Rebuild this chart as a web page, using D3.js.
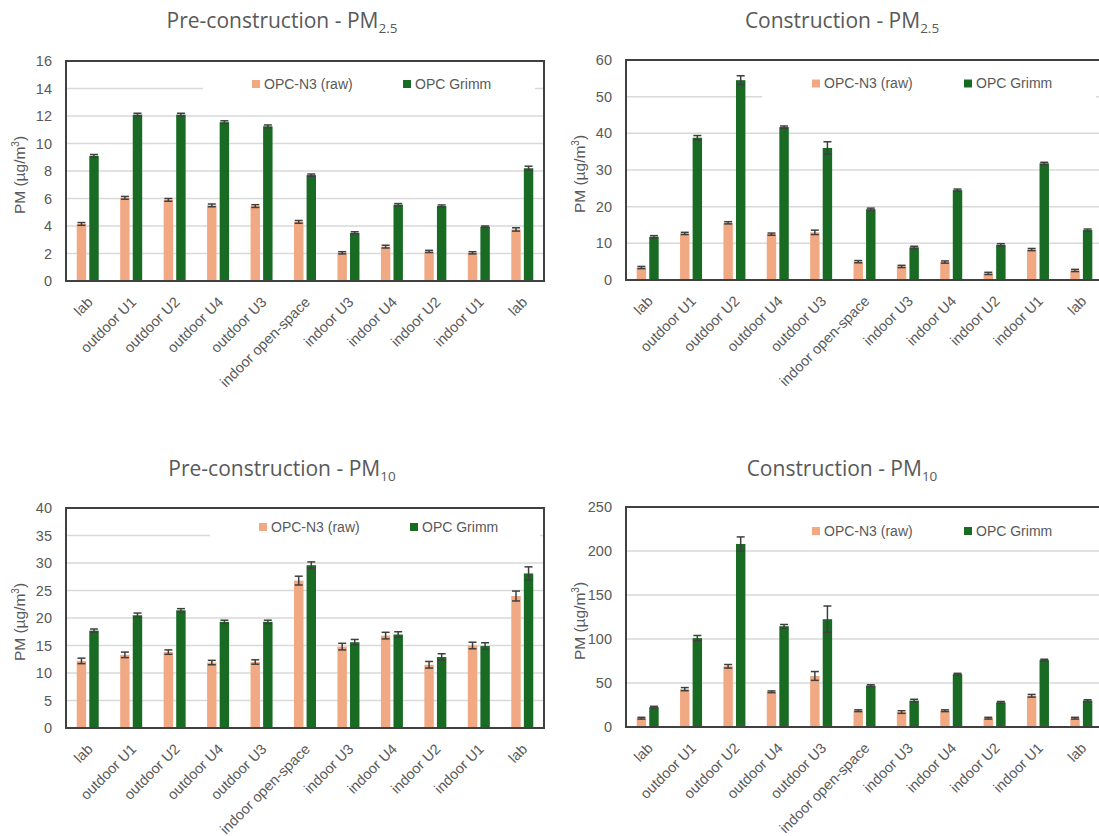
<!DOCTYPE html>
<html>
<head>
<meta charset="utf-8">
<script src="https://cdn.jsdelivr.net/npm/d3@7"></script>
<style>
  body { margin: 0; background: #fff; }
  svg { display: block; }
</style>
</head>
<body>
<svg id="chart" width="1099" height="836"></svg>
<script>
// Measurement sites, in sampling order (the lab appears at both ends)
const categories = ["lab", "outdoor U1", "outdoor U2", "outdoor U4", "outdoor U3",
  "indoor open-space", "indoor U3", "indoor U4", "indoor U2", "indoor U1", "lab"];
const seriesNames = ["OPC-N3 (raw)", "OPC Grimm"];

// Pre-construction, PM2.5 (µg/m³)
const pre25N3       = [4.15, 6.05, 5.9, 5.5, 5.45, 4.3, 2.05, 2.5, 2.15, 2.05, 3.75];
const pre25N3Err    = [0.1, 0.1, 0.1, 0.1, 0.1, 0.1, 0.08, 0.1, 0.08, 0.08, 0.12];
const pre25Grimm    = [9.1, 12.1, 12.1, 11.55, 11.25, 7.7, 3.5, 5.55, 5.45, 3.95, 8.2];
const pre25GrimmErr = [0.1, 0.1, 0.1, 0.1, 0.1, 0.08, 0.08, 0.08, 0.08, 0.05, 0.15];

// Construction, PM2.5 (µg/m³)
const con25N3       = [3.4, 12.7, 15.6, 12.5, 13.0, 5.0, 3.7, 4.9, 1.8, 8.3, 2.6];
const con25N3Err    = [0.3, 0.3, 0.3, 0.3, 0.6, 0.3, 0.3, 0.3, 0.3, 0.3, 0.3];
const con25Grimm    = [11.8, 38.8, 54.5, 41.7, 36.0, 19.3, 8.9, 24.5, 9.6, 31.8, 13.6];
const con25GrimmErr = [0.3, 0.6, 1.2, 0.3, 1.7, 0.3, 0.3, 0.3, 0.3, 0.3, 0.3];

// Pre-construction, PM10 (µg/m³)
const pre10N3       = [12.2, 13.3, 13.8, 11.9, 12.0, 26.8, 14.8, 16.8, 11.5, 15.0, 24.0];
const pre10N3Err    = [0.5, 0.5, 0.4, 0.4, 0.4, 0.8, 0.6, 0.6, 0.6, 0.6, 0.9];
const pre10Grimm    = [17.7, 20.5, 21.4, 19.3, 19.3, 29.6, 15.6, 17.0, 12.9, 14.9, 28.1];
const pre10GrimmErr = [0.3, 0.4, 0.3, 0.3, 0.3, 0.6, 0.5, 0.5, 0.6, 0.6, 1.2];

// Construction, PM10 (µg/m³)
const con10N3       = [10, 43, 69, 40, 58, 18.5, 17, 18.5, 10, 35.5, 10];
const con10N3Err    = [1, 1.8, 2, 1, 5, 1, 1.5, 1, 1, 1.5, 1];
const con10Grimm    = [22.5, 101, 208, 114.5, 122.5, 47, 30, 60, 28, 76, 30];
const con10GrimmErr = [1, 3, 8, 2, 15, 1, 1.5, 1, 1, 1, 1];

// Y-axis ticks per panel
const ticksPre25 = [0, 2, 4, 6, 8, 10, 12, 14, 16];
const ticksCon25 = [0, 10, 20, 30, 40, 50, 60];
const ticksPre10 = [0, 5, 10, 15, 20, 25, 30, 35, 40];
const ticksCon10 = [0, 50, 100, 150, 200, 250];

const colors = ["#F1A983", "#196B24"];
const textGray = "#595959";
const frameColor = "#404040";
const gridColor = "#D9D9D9";
const errColor = "#3f3f3f";

const panels = [
  { title: "Pre-construction - PM", sub: "2.5", ticks: ticksPre25,
    n3: pre25N3, n3Err: pre25N3Err, grimm: pre25Grimm, grimmErr: pre25GrimmErr,
    left: 66, right: 544, top: 61, bottom: 281, titleY: 28,
    leg: { box: [137, 469], o: 186, g: 337, y: 23 } },
  { title: "Construction - PM", sub: "2.5", ticks: ticksCon25,
    n3: con25N3, n3Err: con25N3Err, grimm: con25Grimm, grimmErr: con25GrimmErr,
    left: 626, right: 1103, top: 60, bottom: 280, titleY: 28,
    leg: { box: [136, 470], o: 186, g: 338, y: 23.5 } },
  { title: "Pre-construction - PM", sub: "10", ticks: ticksPre10,
    n3: pre10N3, n3Err: pre10N3Err, grimm: pre10Grimm, grimmErr: pre10GrimmErr,
    left: 66, right: 544, top: 508, bottom: 728, titleY: 476,
    leg: { box: [144, 474], o: 193, g: 344, y: 19 } },
  { title: "Construction - PM", sub: "10", ticks: ticksCon10,
    n3: con10N3, n3Err: con10N3Err, grimm: con10Grimm, grimmErr: con10GrimmErr,
    left: 626, right: 1103, top: 507, bottom: 727, titleY: 476,
    leg: { box: [136, 470], o: 186, g: 338, y: 24 } }
];

const svg = d3.select("#chart");

panels.forEach(p => {
  const g = svg.append("g");
  const idx = d3.range(categories.length);

  const x = d3.scaleBand().domain(idx).range([p.left, p.right]).padding(0);
  const xs = d3.scaleBand().domain([0, 1]).range([-11, 11]).paddingInner(0.25);
  const y = d3.scaleLinear()
    .domain([0, p.ticks[p.ticks.length - 1]])
    .range([p.bottom, p.top]);

  // Horizontal gridlines
  g.append("g").selectAll("line")
    .data(p.ticks.slice(1, -1))
    .join("line")
    .attr("x1", p.left).attr("x2", p.right)
    .attr("y1", d => y(d)).attr("y2", d => y(d))
    .attr("stroke", gridColor).attr("stroke-width", 1.5);

  // Legend (white backing hides the gridline beneath it)
  g.append("rect")
    .attr("x", p.left + p.leg.box[0]).attr("y", p.top + 8)
    .attr("width", p.leg.box[1] - p.leg.box[0]).attr("height", 32)
    .attr("fill", "#fff");
  [p.leg.o, p.leg.g].forEach((off, i) => {
    const cy = p.top + p.leg.y;
    g.append("rect")
      .attr("x", p.left + off).attr("y", cy - 4)
      .attr("width", 8).attr("height", 8)
      .attr("fill", colors[i]);
    g.append("text")
      .attr("x", p.left + off + 12).attr("y", cy)
      .attr("dy", "0.35em")
      .attr("font-family", "Liberation Sans, Arial, sans-serif")
      .attr("font-size", 14)
      .attr("fill", textGray)
      .text(seriesNames[i]);
  });

  // Bars
  const series = [
    { vals: p.n3, errs: p.n3Err },
    { vals: p.grimm, errs: p.grimmErr }
  ];
  series.forEach((s, si) => {
    const bx = i => x(i) + x.bandwidth() / 2 + xs(si);
    g.append("g").selectAll("rect")
      .data(idx)
      .join("rect")
      .attr("x", i => bx(i))
      .attr("width", xs.bandwidth())
      .attr("y", i => y(s.vals[i]))
      .attr("height", i => y(0) - y(s.vals[i]))
      .attr("fill", colors[si]);

    // Error bars
    const eg = g.append("g").attr("stroke", errColor).attr("stroke-width", 1.5);
    idx.forEach(i => {
      const cx = bx(i) + xs.bandwidth() / 2;
      const hi = y(s.vals[i] + s.errs[i]);
      const lo = y(s.vals[i] - s.errs[i]);
      eg.append("line").attr("x1", cx).attr("x2", cx).attr("y1", hi).attr("y2", lo);
      eg.append("line").attr("x1", cx - 4).attr("x2", cx + 4).attr("y1", hi).attr("y2", hi);
      eg.append("line").attr("x1", cx - 4).attr("x2", cx + 4).attr("y1", lo).attr("y2", lo);
    });
  });

  // Y axis tick labels
  const yAxis = g.append("g")
    .attr("transform", `translate(${p.left},0)`)
    .call(d3.axisLeft(y).tickValues(p.ticks).tickSize(0).tickPadding(14).tickFormat(d3.format("d")));
  yAxis.select(".domain").remove();
  yAxis.selectAll("text")
    .attr("font-family", "Liberation Sans, Arial, sans-serif")
    .attr("font-size", 14.5)
    .attr("fill", textGray);

  // X axis category labels, rotated
  const xAxis = g.append("g")
    .attr("transform", `translate(0,${p.bottom})`)
    .call(d3.axisBottom(x).tickSize(0).tickFormat(i => categories[i]));
  xAxis.select(".domain").remove();
  xAxis.selectAll("text")
    .attr("font-family", "Liberation Sans, Arial, sans-serif")
    .attr("font-size", 14.5)
    .attr("fill", textGray)
    .attr("text-anchor", "end")
    .attr("y", 0).attr("dy", 0)
    .attr("transform", "translate(6,22) rotate(-45)");

  // Plot frame
  g.append("rect")
    .attr("x", p.left).attr("y", p.top)
    .attr("width", p.right - p.left).attr("height", p.bottom - p.top)
    .attr("fill", "none")
    .attr("stroke", frameColor).attr("stroke-width", 2);

  // Y axis title
  const yt = g.append("text")
    .attr("transform", `translate(${p.left - 46},${(p.top + p.bottom) / 2 + 4}) rotate(-90)`)
    .attr("text-anchor", "middle")
    .attr("dy", "0.35em")
    .attr("font-family", "Liberation Sans, Arial, sans-serif")
    .attr("font-size", 15.5)
    .attr("fill", textGray);
  yt.append("tspan").text("PM (µg/m");
  yt.append("tspan").attr("font-size", 10).attr("dy", -6).text("3");
  yt.append("tspan").attr("dy", 6).text(")");

  // Panel title
  const t = g.append("text")
    .attr("x", p.left + 216).attr("y", p.titleY)
    .attr("text-anchor", "middle")
    .attr("font-family", "Open Sans, sans-serif")
    .attr("font-size", 21)
    .attr("fill", textGray);
  t.append("tspan").text(p.title);
  t.append("tspan").attr("font-size", 13.5).attr("dy", 5).text(p.sub);
});
</script>
</body>
</html>
